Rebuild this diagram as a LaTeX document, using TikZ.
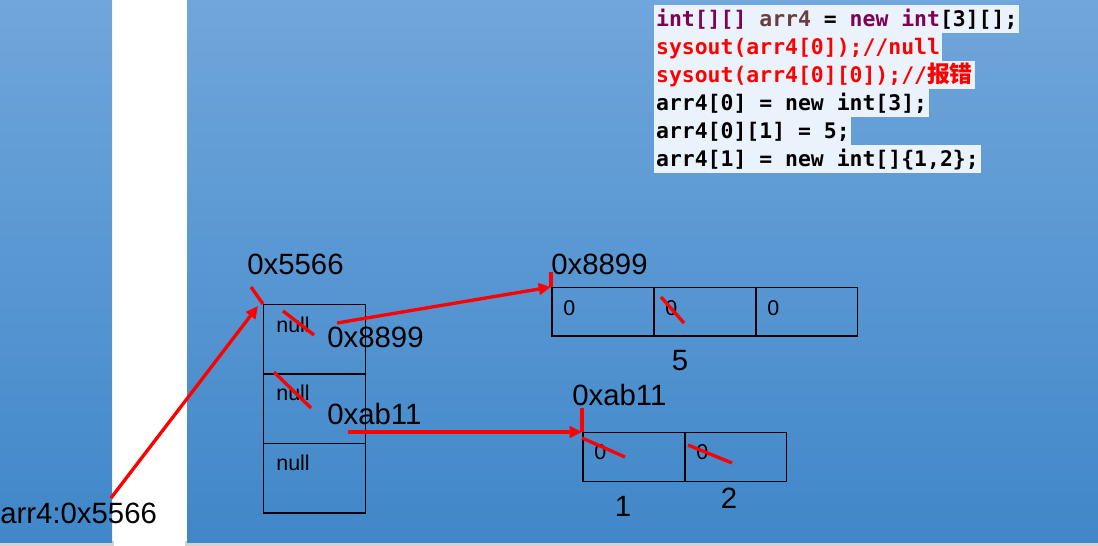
\documentclass[tikz,border=0pt]{standalone}
\usepackage{fontspec}
\setmainfont{Liberation Sans}
\newfontfamily\codefont{DejaVu Sans Mono}
\newfontfamily\cjkfont{Noto Sans CJK SC}
\usepackage{xcolor}
\usetikzlibrary{arrows.meta}
\definecolor{paneltop}{RGB}{112,166,219}
\definecolor{panelbot}{RGB}{64,135,201}
\definecolor{codebg}{RGB}{234,242,251}
\definecolor{kwpurple}{RGB}{127,0,85}
\definecolor{varbrown}{RGB}{106,62,62}
\definecolor{mark}{RGB}{255,0,0}

\begin{document}
\begin{tikzpicture}[
  x=0.02cm,y=-0.02cm,
  panel/.style={top color=paneltop,bottom color=panelbot,draw=none},
  codeline/.style={anchor=north west,fill=codebg,inner xsep=1pt,inner ysep=0pt,
    text height=12.2pt,text depth=3.7pt,font=\codefont\bfseries\fontsize{12.2}{14}\selectfont},
  addr/.style={anchor=west,inner sep=0pt,text depth=0pt,font=\fontsize{16.7}{18}\selectfont},
  small/.style={anchor=west,inner sep=0pt,text depth=0pt,font=\fontsize{12.2}{14}\selectfont},
  stackcell/.style={draw,line width=0.85pt,anchor=north west,inner sep=0pt,
    minimum width=2.04cm,minimum height=1.39cm},
  heapcell/.style={draw,line width=0.85pt,anchor=north west,inner sep=0pt,
    minimum width=2.04cm,minimum height=0.97cm},
  ref/.style={draw=mark,line width=1.9pt,-{Triangle[length=7pt,width=6.5pt]}},
  strike/.style={draw=mark,line width=1.9pt}
]
  \useasboundingbox (0,0) rectangle (1098,546);
  % panels
  \fill[gray!35] (0,541) rectangle (114,546);
  \fill[gray!35] (185,541) rectangle (1098,546);
  \fill[panel] (0,0) rectangle (112,543);
  \fill[panel] (187,0) rectangle (1098,543);

  % code
  \node[codeline] (c1) at (654,5)   {\textcolor{kwpurple}{int[][]} \textcolor{varbrown}{arr4} = \textcolor{kwpurple}{new} \textcolor{kwpurple}{int}[3][];};
  \node[codeline,text=mark] (c2) at (654,33)  {sysout(arr4[0]);//null};
  \node[codeline,text=mark] (c3) at (654,61)  {sysout(arr4[0][0]);//{\cjkfont\bfseries\fontsize{13}{14}\selectfont 报错}};
  \node[codeline] (c4) at (654,89)  {arr4[0] = new int[3];};
  \node[codeline] (c5) at (654,117) {arr4[0][1] = 5;};
  \node[codeline] (c6) at (654,145) {arr4[1] = new int[]\{1,2\};};

  % stack variable
  \node[addr] (var) at (0,513) {arr4:0x5566};

  % outer array
  \node[addr] (l5566) at (247,264) {0x5566};
  \node[stackcell] (s0) at (263,304) {};
  \node[stackcell] (s1) at (263,373.5) {};
  \node[stackcell] (s2) at (263,443) {};
  \node[small] (n0) at (276,325) {null};
  \node[small] (n1) at (276,393) {null};
  \node[small] (n2) at (276,463) {null};
  \node[addr] (r0) at (327,337) {0x8899};
  \node[addr] (r1) at (327,414) {0xab11};

  % arr4[0]
  \node[addr] (l8899) at (551,264) {0x8899};
  \node[heapcell] (a0) at (551,287) {};
  \node[heapcell] (a1) at (653,287) {};
  \node[heapcell] (a2) at (755,287) {};
  \node[small] (z0) at (563,308) {0};
  \node[small] (z1) at (665,308) {0};
  \node[small] (z2) at (767,308) {0};
  \node[addr,anchor=center] (v5) at (680,360) {5};

  % arr4[1]
  \node[addr] (lab11) at (572,395) {0xab11};
  \node[heapcell,minimum height=0.98cm] (b0) at (582,432) {};
  \node[heapcell,minimum height=0.98cm] (b1) at (684,432) {};
  \node[small] (y0) at (594,452) {0};
  \node[small] (y1) at (696,452) {0};
  \node[addr,anchor=center] (v1) at (623,506) {1};
  \node[addr,anchor=center] (v2) at (729,498) {2};

  % references
  \coordinate (p5566) at (111,498);
  \coordinate (p8899) at (337,323);
  \coordinate (pab11) at (348,432);
  \draw[ref] (p5566) -- ([shift={(-5,2)}]s0.north west);
  \draw[ref] (p8899) -- (a0.north west);
  \draw[ref] (pab11) -- (b0.north west);

  % address ticks
  \draw[strike] ([shift={(-12,-17)}]s0.north west) -- (s0.north west);
  \draw[strike] ([shift={(0,-15)}]a0.north west) -- (a0.north west);
  \draw[strike] ([shift={(0,-24)}]b0.north west) -- (b0.north west);

  % overwritten values
  \draw[strike] (283,311) -- (314,335);
  \draw[strike] (274,372) -- (311,408);
  \draw[strike] (661,297) -- (684,323);
  \draw[strike] (582,438) -- (625,457);
  \draw[strike] (688,445) -- (732,463);
\end{tikzpicture}
\end{document}
